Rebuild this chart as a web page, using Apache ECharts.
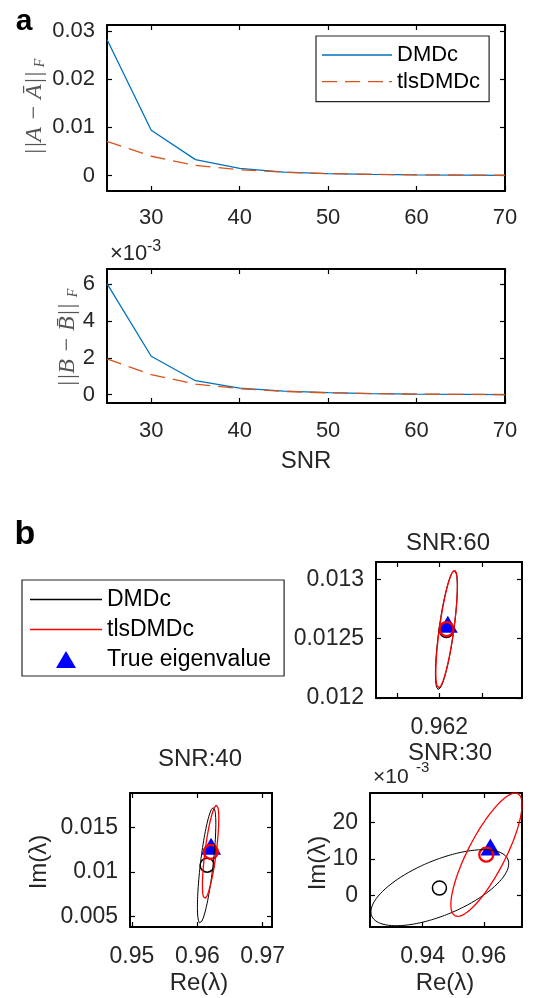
<!DOCTYPE html>
<html>
<head>
<meta charset="utf-8">
<script src="https://cdn.jsdelivr.net/npm/echarts@6/dist/echarts.min.js"></script>
<style>html,body{margin:0;padding:0;background:#fff;}#c{width:555px;height:998px;}</style>
</head>
<body>
<div id="c"></div>
<script>
// ---------------- data (panel a) ----------------
const snr = [25, 30, 35, 40, 45, 50, 55, 60, 65, 70];
const errA_DMDc = [0.0282, 0.0094, 0.0033, 0.0015, 0.0007, 0.0004, 0.00025, 0.00015, 0.0001, 0.00005];
const errA_tls  = [0.0071, 0.0040, 0.0021, 0.0012, 0.0007, 0.0004, 0.00025, 0.00015, 0.0001, 0.00005];
const errB_DMDc = [0.00604, 0.00209, 0.00076, 0.00036, 0.00019, 0.00011, 0.00006, 0.00003, 0.00002, 0.00001];
const errB_tls  = [0.00195, 0.00109, 0.00058, 0.00033, 0.00018, 0.00010, 0.00006, 0.00003, 0.00002, 0.00001];
const snrTicks = [30, 40, 50, 60, 70];
const errATicks = [0, 0.01, 0.02, 0.03];
const errBTicks = [0, 0.002, 0.004, 0.006];

// ---------------- data (panel b) ----------------
// ellipse: [centre Re, centre Im, topmost point Re, topmost point Im, horizontal half-chord through centre]
const ell60_DMDc = [0.962083, 0.012572, 0.962177, 0.013072, 0.000088];
const ell60_tls  = [0.962086, 0.012581, 0.962180, 0.013077, 0.0000853];
const ell40_DMDc = [0.96142, 0.010735, 0.96243, 0.017235, 0.00098];
const ell40_tls  = [0.96203, 0.01225, 0.96293, 0.01751, 0.00087];
const ell30_DMDc = [0.94562, 0.00218, 0.95987, 0.01255, 0.01739];
const ell30_tls  = [0.96082, 0.01119, 0.97023, 0.02803, 0.0068];
// mean estimates [Re, Im]
const mean60_DMDc = [0.962083, 0.012568];
const mean60_tls  = [0.962086, 0.012581];
const mean40_DMDc = [0.96150, 0.01076];
const mean40_tls  = [0.96206, 0.01226];
const mean30_DMDc = [0.94549, 0.0021];
const mean30_tls  = [0.96075, 0.01119];
const trueEig = [0.9621, 0.0126];
// tick values
const re60Ticks = [0.9615, 0.962, 0.9625];
const re60Labels = [0.962];
const im60Ticks = [0.012, 0.0125, 0.013];
const re40Ticks = [0.95, 0.96, 0.97];
const im40Ticks = [0.005, 0.01, 0.015];
const re30Ticks = [0.94, 0.96];
const im30Ticks = [0, 0.01, 0.02];

// ---------------- helpers ----------------
const FONT = '"Liberation Sans", Arial, sans-serif';
const SERIF = '"Liberation Serif", "DejaVu Serif", serif';
const TXT = '#262626';
const xAxis = [], yAxis = [], grid = [];

function fmtNum(v){ return String(Math.round(v * 1e6) / 1e6); }

function addPlot(g, xr, yr, fs, xfmt, yfmt) {
  grid.push(Object.assign({containLabel: false, outerBoundsMode: 'none'}, g));
  const gi = grid.length - 1;
  const line = {show: true, onZero: false, lineStyle: {color: '#000', width: 2}};
  const tick = (vals) => ({show: true, inside: true, length: 5, customValues: vals, lineStyle: {color: '#000', width: 1.2}});
  xAxis.push({type: 'value', gridIndex: gi, position: 'bottom', min: xr.min, max: xr.max,
    axisLine: line, axisTick: tick(xr.ticks), splitLine: {show: false},
    axisLabel: {customValues: xr.labels || xr.ticks, formatter: xfmt, fontSize: fs, fontFamily: FONT, color: TXT, margin: xr.margin, hideOverlap: false, showMinLabel: true, showMaxLabel: true}});
  xAxis.push({type: 'value', gridIndex: gi, position: 'top', min: xr.min, max: xr.max,
    axisLine: line, axisTick: tick(xr.ticks), splitLine: {show: false}, axisLabel: {show: false}});
  yAxis.push({type: 'value', gridIndex: gi, position: 'left', min: yr.min, max: yr.max,
    axisLine: line, axisTick: tick(yr.ticks), splitLine: {show: false},
    axisLabel: {customValues: yr.ticks, formatter: yfmt, fontSize: fs, fontFamily: FONT, color: TXT, margin: 12, hideOverlap: false, showMinLabel: true, showMaxLabel: true}});
  yAxis.push({type: 'value', gridIndex: gi, position: 'right', min: yr.min, max: yr.max,
    axisLine: line, axisTick: tick(yr.ticks), splitLine: {show: false}, axisLabel: {show: false}});
  return {x: xAxis.length - 2, y: yAxis.length - 2};
}

function ellipse(p) {
  const [cx, cy, tx, ty, h] = p;
  const pts = [];
  for (let i = 0; i <= 200; i++) {
    const t = i / 200 * 2 * Math.PI;
    pts.push([cx + (tx - cx) * Math.cos(t) + h * Math.sin(t), cy + (ty - cy) * Math.cos(t)]);
  }
  return pts;
}

// ---------------- plots ----------------
const pA = addPlot({left: 107, top: 25, width: 398, height: 166},
  {min: 25, max: 70, ticks: snrTicks, margin: 16}, {min: -0.0032, max: 0.0312, ticks: errATicks}, 22,
  v => String(v), fmtNum);
const pB = addPlot({left: 107, top: 269, width: 398, height: 134},
  {min: 25, max: 70, ticks: snrTicks, margin: 17}, {min: -0.00045, max: 0.00683, ticks: errBTicks}, 22,
  v => String(v), v => String(Math.round(v * 1000)));
const p60 = addPlot({left: 376, top: 562, width: 146, height: 136},
  {min: 0.961255, max: 0.962973, ticks: re60Ticks, labels: re60Labels, margin: 18},
  {min: 0.012, max: 0.013146, ticks: im60Ticks}, 23, fmtNum, fmtNum);
const p40 = addPlot({left: 130, top: 793, width: 142, height: 134},
  {min: 0.9497, max: 0.97142, ticks: re40Ticks, margin: 18},
  {min: 0.00379, max: 0.01889, ticks: im40Ticks}, 23, fmtNum, fmtNum);
const p30 = addPlot({left: 370, top: 793, width: 152, height: 134},
  {min: 0.92284, max: 0.97242, ticks: re30Ticks, margin: 18},
  {min: -0.00854, max: 0.02802, ticks: im30Ticks}, 23, fmtNum, v => String(Math.round(v * 1000)));

const series = [];
function lineA(p, name, xs, ys, color, dashed) {
  series.push({type: 'line', name, xAxisIndex: p.x, yAxisIndex: p.y, data: xs.map((x, i) => [x, ys[i]]),
    symbol: 'none', showSymbol: false, smooth: false, clip: true,
    lineStyle: {color, width: 1.3, type: dashed ? [15, 8] : 'solid'}, itemStyle: {color}});
}
lineA(pA, 'DMDc', snr, errA_DMDc, '#0072BD', false);
lineA(pA, 'tlsDMDc', snr, errA_tls, '#D95319', true);
lineA(pB, 'DMDc', snr, errB_DMDc, '#0072BD', false);
lineA(pB, 'tlsDMDc', snr, errB_tls, '#D95319', true);

function eigPanel(p, eD, eT, mD, mT) {
  series.push({type: 'line', name: 'DMDc_b', xAxisIndex: p.x, yAxisIndex: p.y, data: ellipse(eD),
    symbol: 'none', showSymbol: false, clip: true, lineStyle: {color: '#000', width: 1}, itemStyle: {color: '#000'}});
  series.push({type: 'line', name: 'tlsDMDc_b', xAxisIndex: p.x, yAxisIndex: p.y, data: ellipse(eT),
    symbol: 'none', showSymbol: false, clip: true, lineStyle: {color: '#FF0000', width: 1.3}, itemStyle: {color: '#FF0000'}});
  series.push({type: 'scatter', name: 'DMDc mean', xAxisIndex: p.x, yAxisIndex: p.y, data: [mD],
    symbol: 'circle', symbolSize: 14, itemStyle: {color: 'rgba(0,0,0,0)', borderColor: '#000', borderWidth: 1.5, opacity: 1}});
  series.push({type: 'scatter', name: 'True eigenvalue', xAxisIndex: p.x, yAxisIndex: p.y, data: [trueEig],
    symbol: 'triangle', symbolSize: [20, 17], symbolOffset: [0, -2.5], itemStyle: {color: '#0000FF', opacity: 1}});
  series.push({type: 'scatter', name: 'tls mean', xAxisIndex: p.x, yAxisIndex: p.y, data: [mT],
    symbol: 'circle', symbolSize: 14, itemStyle: {color: 'rgba(0,0,0,0)', borderColor: '#FF0000', borderWidth: 2.2, opacity: 1}});
}
eigPanel(p60, ell60_DMDc, ell60_tls, mean60_DMDc, mean60_tls);
eigPanel(p40, ell40_DMDc, ell40_tls, mean40_DMDc, mean40_tls);
eigPanel(p30, ell30_DMDc, ell30_tls, mean30_DMDc, mean30_tls);

// ---------------- texts ----------------
function txt(x, y, text, size, opts) {
  opts = opts || {};
  return {type: 'text', x, y, rotation: opts.rot || 0, z: 100,
    style: {text, fontSize: size, fontFamily: opts.family || FONT, fontWeight: opts.weight || 'normal',
      fontStyle: opts.style || 'normal', fill: opts.color || TXT,
      align: opts.align || 'center', textAlign: opts.align || 'center',
      verticalAlign: 'middle', textVerticalAlign: 'middle'}};
}
const graphics = [
  txt(24, 22, 'a', 30, {weight: 'bold', color: '#000'}),
  txt(25, 535, 'b', 34, {weight: 'bold', color: '#000'}),
  txt(35, 113, '||A \u2212 \u0100||', 24, {rot: Math.PI / 2, family: SERIF, style: 'italic', color: '#555'}),
  txt(40, 63, 'F', 14, {rot: Math.PI / 2, family: SERIF, style: 'italic', color: '#555'}),
  txt(68, 345, '||B \u2212 B\u0304||', 24, {rot: Math.PI / 2, family: SERIF, style: 'italic', color: '#555'}),
  txt(73, 293, 'F', 14, {rot: Math.PI / 2, family: SERIF, style: 'italic', color: '#555'}),
  txt(110, 254, '\u00d710', 22, {align: 'left'}),
  txt(147, 247, '-3', 16, {align: 'left'}),
  txt(306, 461, 'SNR', 24),
  txt(448, 543, 'SNR:60', 24),
  txt(200, 759, 'SNR:40', 24),
  txt(450, 753, 'SNR:30', 24),
  txt(373, 777, '\u00d710', 21, {align: 'left'}),
  txt(416, 768, '-3', 15, {align: 'left'}),
  txt(39, 862, 'Im(\u03bb)', 24, {rot: Math.PI / 2}),
  txt(318, 863, 'Im(\u03bb)', 24, {rot: Math.PI / 2}),
  txt(199, 983, 'Re(\u03bb)', 24),
  txt(445, 983, 'Re(\u03bb)', 24)
];

// legend icons (line / dashed line / triangle), drawn in the icon box
const iconLineA = 'path://M0,0L0,14L0,0Z M0,6.35h70v1.3h-70z';
const iconDashA = 'path://M0,0L0,14L0,0Z M0,6.35h15v1.3h-15z M23,6.35h15v1.3h-15z M46,6.35h15v1.3h-15z M67,6.35h3v1.3h-3z';
const iconLineB = 'path://M0,0L0,17L0,0Z M0,7.85h72v1.3h-72z';
const iconTriB = 'path://M0,8.5L72,8.5L0,8.5Z M36,0L46,17L26,17Z';

const option = {
  animation: false,
  backgroundColor: '#fff',
  grid, xAxis, yAxis, series,
  legend: [
    {data: [{name: 'DMDc', icon: iconLineA}, {name: 'tlsDMDc', icon: iconDashA}],
      orient: 'vertical', left: 316, top: 36, padding: [8, 9, 9, 6],
      itemWidth: 70, itemHeight: 14, itemGap: 4.7, borderColor: '#262626', borderWidth: 1.2, backgroundColor: '#fff',
      selectedMode: false, textStyle: {fontSize: 22, fontFamily: FONT, color: '#000'}},
    {data: [{name: 'DMDc_b', icon: iconLineB}, {name: 'tlsDMDc_b', icon: iconLineB}, {name: 'True eigenvalue', icon: iconTriB}],
      orient: 'vertical', left: 22, top: 580, padding: [8, 13, 5, 8],
      itemWidth: 72, itemHeight: 17, itemGap: 7, borderColor: '#262626', borderWidth: 1.2, backgroundColor: '#fff',
      selectedMode: false, formatter: n => n.replace('_b', ''),
      itemStyle: {opacity: 1},
      textStyle: {fontSize: 23, fontFamily: FONT, color: '#000'}}
  ],
  graphic: graphics
};
const chart = echarts.init(document.getElementById('c'), null, {renderer: 'canvas'});
chart.setOption(option);
</script>
</body>
</html>
